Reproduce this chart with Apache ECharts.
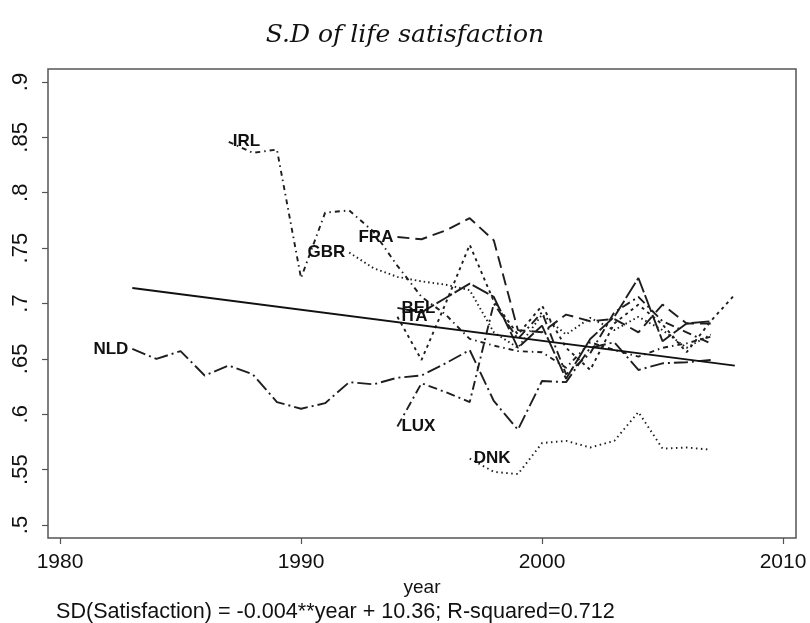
<!DOCTYPE html>
<html>
<head>
<meta charset="utf-8">
<title>S.D of life satisfaction</title>
<script src="https://cdn.jsdelivr.net/npm/echarts@6.0.0/dist/echarts.min.js"></script>
<style>
  html, body { margin: 0; padding: 0; background: #fff; }
  #chart { width: 810px; height: 623px; }
</style>
</head>
<body>
<div id="chart"></div>
<script>
// values, by country
const nldYears = [1983, 1984, 1985, 1986, 1987, 1988, 1989, 1990, 1991, 1992, 1993, 1994, 1995, 1996, 1997, 1998, 1999, 2000, 2001, 2002, 2003, 2004, 2005, 2006, 2007];
const nldValues = [0.659, 0.650, 0.657, 0.635, 0.644, 0.636, 0.611, 0.605, 0.610, 0.629, 0.627, 0.633, 0.635, 0.646, 0.658, 0.612, 0.586, 0.630, 0.629, 0.660, 0.665, 0.640, 0.646, 0.647, 0.649];

const irlYears = [1987, 1988, 1989, 1990, 1991, 1992, 1993, 1994, 1995, 1996, 1997, 1998, 1999, 2000, 2001, 2002, 2003, 2004, 2005, 2006, 2007];
const irlValues = [0.846, 0.836, 0.839, 0.723, 0.782, 0.784, 0.765, 0.734, 0.706, 0.690, 0.668, 0.662, 0.657, 0.656, 0.642, 0.665, 0.658, 0.652, 0.660, 0.664, 0.670];

const gbrYears = [1992, 1993, 1994, 1995, 1996, 1997, 1998, 1999, 2000, 2001, 2002, 2003, 2004, 2005, 2006, 2007];
const gbrValues = [0.746, 0.732, 0.724, 0.720, 0.717, 0.712, 0.674, 0.660, 0.690, 0.672, 0.687, 0.676, 0.688, 0.676, 0.660, 0.672];

const fraYears = [1994, 1995, 1996, 1997, 1998, 1999, 2000, 2001, 2002, 2003, 2004, 2005, 2006, 2007];
const fraValues = [0.760, 0.758, 0.766, 0.777, 0.757, 0.676, 0.674, 0.690, 0.684, 0.686, 0.674, 0.699, 0.682, 0.682];

const belYears = [1994, 1995, 1996, 1997, 1998, 1999, 2000, 2001, 2002, 2003, 2004, 2005, 2006, 2007];
const belValues = [0.696, 0.692, 0.705, 0.718, 0.706, 0.660, 0.680, 0.632, 0.668, 0.688, 0.723, 0.666, 0.682, 0.684];

const itaYears = [1994, 1995, 1996, 1997, 1998, 1999, 2000, 2001, 2002, 2003, 2004, 2005, 2006, 2007, 2008];
const itaValues = [0.688, 0.649, 0.700, 0.753, 0.702, 0.672, 0.698, 0.660, 0.640, 0.682, 0.699, 0.681, 0.656, 0.684, 0.708];

const luxYears = [1994, 1995, 1996, 1997, 1998, 1999, 2000, 2001, 2002, 2003, 2004, 2005, 2006, 2007];
const luxValues = [0.589, 0.628, 0.620, 0.611, 0.700, 0.668, 0.692, 0.636, 0.655, 0.692, 0.706, 0.684, 0.674, 0.664];

const dnkYears = [1997, 1998, 1999, 2000, 2001, 2002, 2003, 2004, 2005, 2006, 2007];
const dnkValues = [0.560, 0.548, 0.546, 0.574, 0.576, 0.570, 0.576, 0.602, 0.569, 0.570, 0.568];

// fitted line, ends
const fitYears = [1983, 2008];
const fitValues = [0.714, 0.644];

const xTicks = [1980, 1990, 2000, 2010];
const yTicks = [0.5, 0.55, 0.6, 0.65, 0.7, 0.75, 0.8, 0.85, 0.9];

const countries = [
  { name: 'NLD', years: nldYears, values: nldValues, dash: [14, 4, 2, 4], side: 'left' },
  { name: 'IRL', years: irlYears, values: irlValues, dash: [5, 4, 1.5, 4], side: 'right' },
  { name: 'GBR', years: gbrYears, values: gbrValues, dash: [1.5, 3], side: 'left' },
  { name: 'FRA', years: fraYears, values: fraValues, dash: [12, 6], side: 'left' },
  { name: 'BEL', years: belYears, values: belValues, dash: [18, 3], side: 'right' },
  { name: 'ITA', years: itaYears, values: itaValues, dash: [3, 4], side: 'right' },
  { name: 'LUX', years: luxYears, values: luxValues, dash: [9, 4, 2, 4], side: 'right' },
  { name: 'DNK', years: dnkYears, values: dnkValues, dash: [1.5, 3.5], side: 'right' }
];

const chart = echarts.init(document.getElementById('chart'));

function countrySeries(c) {
  const data = c.years.map((y, i) => {
    const item = { value: [y, c.values[i]] };
    if (i === 0) {
      item.label = {
        show: true,
        position: c.side,
        distance: 4,
        formatter: c.name
      };
    }
    return item;
  });
  return {
    name: c.name,
    type: 'line',
    data: data,
    symbol: 'circle',
    symbolSize: 0.01,
    showSymbol: true,
    silent: true,
    z: 3,
    lineStyle: { color: '#1e1e1e', width: 1.9, type: c.dash },
    itemStyle: { color: '#1e1e1e' },
    label: {
      show: false,
      color: '#111',
      fontFamily: '"Liberation Sans Narrow", "Liberation Sans", Arial, sans-serif',
      fontWeight: 'bold',
      fontSize: 17
    }
  };
}

const series = countries.map(countrySeries);
series.push({
  name: 'fit',
  type: 'line',
  data: fitYears.map((y, i) => [y, fitValues[i]]),
  showSymbol: false,
  silent: true,
  z: 4,
  lineStyle: { color: '#111', width: 1.8, type: 'solid' }
});

const tickFont = 'Liberation Sans, Arial, sans-serif';

const option = {
  animation: false,
  backgroundColor: '#fff',
  title: [
    {
      text: 'S.D of life satisfaction',
      left: 'center',
      top: 18,
      textStyle: {
        fontFamily: '"DejaVu Serif", serif',
        fontStyle: 'italic',
        fontWeight: 'normal',
        fontSize: 25,
        color: '#111'
      }
    },
    {
      text: 'SD(Satisfaction) = -0.004**year + 10.36; R-squared=0.712',
      left: 51,
      top: 596,
      textStyle: {
        fontFamily: tickFont,
        fontWeight: 'normal',
        fontSize: 21.6,
        color: '#111'
      }
    }
  ],
  grid: {
    left: 48,
    right: 14,
    top: 69,
    bottom: 85,
    show: true,
    borderColor: '#555',
    borderWidth: 1.5,
    backgroundColor: '#fff'
  },
  xAxis: {
    type: 'value',
    min: 1979.5,
    max: 2010.54,
    name: 'year',
    nameLocation: 'middle',
    nameGap: 37,
    nameTextStyle: { fontFamily: tickFont, fontSize: 19, color: '#111' },
    axisLine: { show: false },
    splitLine: { show: false },
    axisTick: {
      show: true,
      length: 6,
      customValues: xTicks,
      lineStyle: { color: '#555', width: 1.2 }
    },
    axisLabel: {
      customValues: xTicks,
      margin: 14,
      fontFamily: tickFont,
      fontSize: 21,
      color: '#111',
      formatter: v => String(Math.round(v))
    }
  },
  yAxis: {
    type: 'value',
    min: 0.4883,
    max: 0.9117,
    axisLine: { show: false },
    splitLine: { show: false },
    axisTick: {
      show: true,
      length: 6,
      customValues: yTicks,
      lineStyle: { color: '#555', width: 1.2 }
    },
    axisLabel: {
      customValues: yTicks,
      rotate: 90,
      margin: 16,
      fontFamily: tickFont,
      fontSize: 22,
      color: '#111',
      formatter: v => String(+v.toFixed(2)).replace(/^0/, '')
    }
  },
  series: series
};

chart.setOption(option);
</script>
</body>
</html>
